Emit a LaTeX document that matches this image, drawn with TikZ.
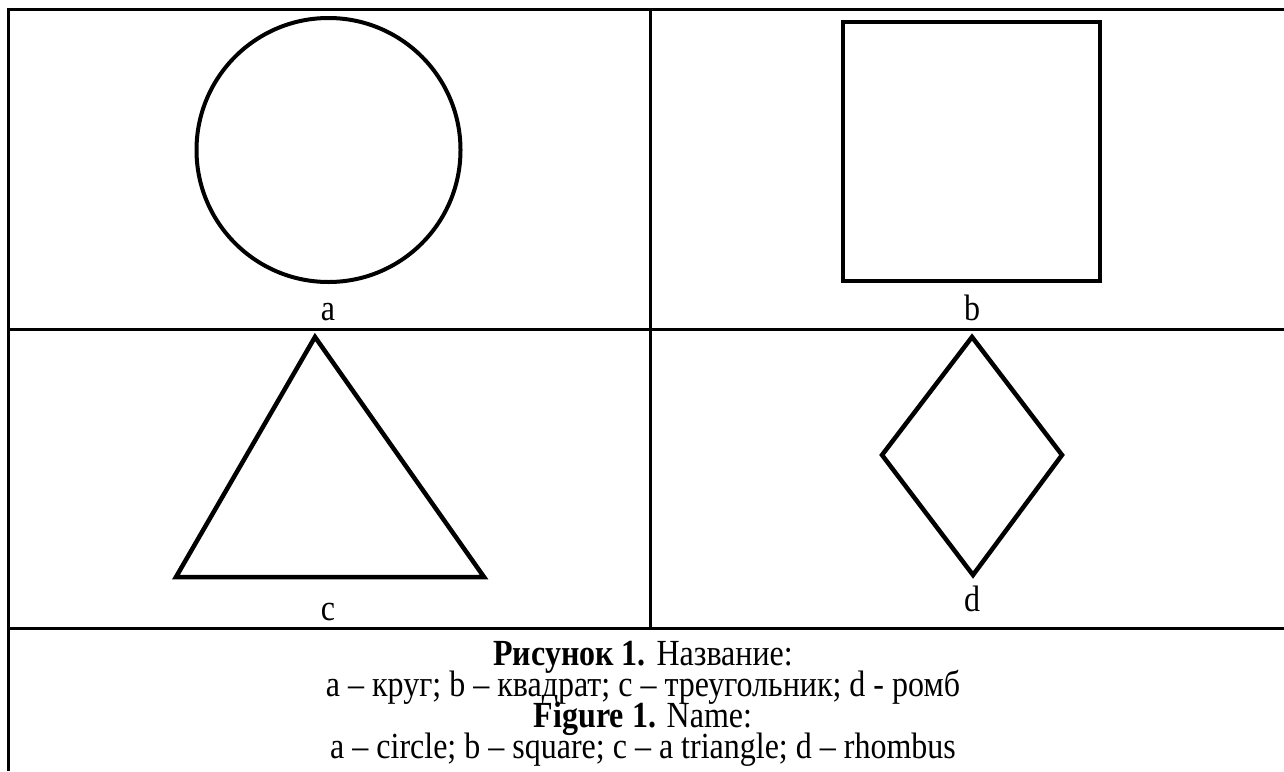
\documentclass[tikz,border=0pt]{standalone}
\usepackage{fontspec}
\setmainfont{Liberation Serif}
\newcommand{\tallt}[1]{\scalebox{1}[1.15]{#1}}
\begin{document}
\begin{tikzpicture}[x=1pt,y=-1pt,
  rule/.style={line width=3pt, line join=miter},
  shp/.style={line width=4pt, line join=miter},
  lab/.style={font=\fontsize{32}{36}\selectfont, anchor=base, inner sep=0pt}]
\useasboundingbox (0,0) rectangle (1284,771);
% table rules
\draw[rule] (8,771) -- (8,9) -- (1284,9);
\draw[rule] (8,329) -- (1284,329);
\draw[rule] (8,628) -- (1284,628);
\draw[rule] (650,9) -- (650,628);
% shapes
\draw[shp] (328.5,150) circle (132);
\draw[shp] (843,22) rectangle (1100,281);
\draw[shp, line width=4.5pt] (315,337) -- (176,577) -- (484,577) -- cycle;
\draw[shp, line width=4.5pt] (972,337) -- (1062,455) -- (973,575) -- (882,455) -- cycle;
% labels
\node[lab] (la) at (328,320) {\tallt{a}};
\node[lab] (lb) at (972,320) {\tallt{b}};
\node[lab] (lc) at (328,620) {\tallt{c}};
\node[lab] (ld) at (972,611) {\tallt{d}};
% caption
\node[lab] (c1) at (643,665) {\tallt{\textbf{Рисунок 1.} Название:}};
\node[lab] (c2) at (643,696) {\tallt{a – круг; b – квадрат; c – треугольник; d - ромб}};
\node[lab] (c3) at (643,727) {\tallt{\textbf{Figure 1.} Name:}};
\node[lab] (c4) at (643,758) {\tallt{a – circle; b – square; c – a triangle; d – rhombus}};
\end{tikzpicture}
\end{document}
